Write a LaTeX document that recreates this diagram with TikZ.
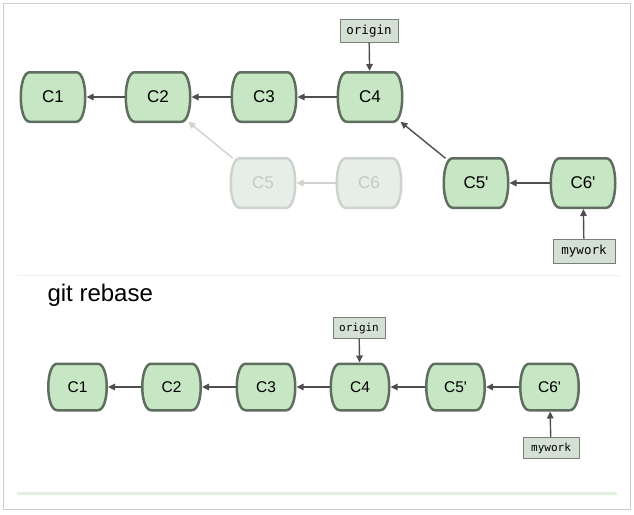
\documentclass[tikz,border=0pt]{standalone}
\usepackage{fontspec}
\setmainfont{Liberation Sans}
\setmonofont{DejaVu Sans Mono}
\usetikzlibrary{arrows.meta}

\definecolor{commitfill}{RGB}{198,230,196}
\definecolor{commitline}{RGB}{96,110,96}
\definecolor{ghostfill}{RGB}{231,238,231}
\definecolor{ghostline}{RGB}{206,211,206}
\definecolor{ghosttext}{RGB}{196,201,196}
\definecolor{reffill}{RGB}{212,224,212}
\definecolor{refline}{RGB}{118,128,118}
\definecolor{linkgray}{RGB}{78,78,78}
\definecolor{framegray}{RGB}{205,205,205}
\definecolor{barfill}{RGB}{226,240,224}

\makeatletter
\pgfdeclareshape{commit box}{
  \inheritsavedanchors[from=rectangle]
  \inheritanchorborder[from=rectangle]
  \inheritanchor[from=rectangle]{center}
  \inheritanchor[from=rectangle]{north}
  \inheritanchor[from=rectangle]{south}
  \inheritanchor[from=rectangle]{east}
  \inheritanchor[from=rectangle]{west}
  \inheritanchor[from=rectangle]{north east}
  \inheritanchor[from=rectangle]{north west}
  \inheritanchor[from=rectangle]{south east}
  \inheritanchor[from=rectangle]{south west}
  \backgroundpath{%
    \southwest \edef\cmtl{\the\pgf@x}\edef\cmtb{\the\pgf@y}%
    \northeast \edef\cmtr{\the\pgf@x}\edef\cmtt{\the\pgf@y}%
    \pgfmathsetmacro\cmtl{\cmtl+\pgfkeysvalueof{/pgf/outer xsep}}%
    \pgfmathsetmacro\cmtr{\cmtr-\pgfkeysvalueof{/pgf/outer xsep}}%
    \pgfmathsetmacro\cmtb{\cmtb+\pgfkeysvalueof{/pgf/outer ysep}}%
    \pgfmathsetmacro\cmtt{\cmtt-\pgfkeysvalueof{/pgf/outer ysep}}%
    \def\cmbow{12}% side bows out by 3/4 of this
    \pgfpathmoveto{\pgfpoint{\cmtl pt}{\cmtt pt}}%
    \pgfpathlineto{\pgfpoint{\cmtr pt}{\cmtt pt}}%
    \pgfpathcurveto{\pgfpoint{\cmtr pt+\cmbow pt}{\cmtt pt}}%
      {\pgfpoint{\cmtr pt+\cmbow pt}{\cmtb pt}}%
      {\pgfpoint{\cmtr pt}{\cmtb pt}}%
    \pgfpathlineto{\pgfpoint{\cmtl pt}{\cmtb pt}}%
    \pgfpathcurveto{\pgfpoint{\cmtl pt-\cmbow pt}{\cmtb pt}}%
      {\pgfpoint{\cmtl pt-\cmbow pt}{\cmtt pt}}%
      {\pgfpoint{\cmtl pt}{\cmtt pt}}%
    \pgfpathclose
  }
}
\makeatother

\begin{document}
\begin{tikzpicture}[x=1pt,y=-1pt,
  commit/.style={shape=commit box, draw=commitline, fill=commitfill, line width=2.5pt,
    inner sep=0pt, outer xsep=10.25pt, outer ysep=1.25pt,
    minimum width=46.5pt, minimum height=49.5pt, font=\fontsize{17}{17}\selectfont},
  small/.style={minimum width=40.5pt, minimum height=46.5pt, font=\fontsize{15.5}{15.5}\selectfont},
  ghost/.style={draw=ghostline, fill=ghostfill, text=ghosttext},
  branch/.style={draw=refline, fill=reffill, line width=0.8pt, inner sep=0pt,
    minimum width=58pt, minimum height=23pt, font=\ttfamily\fontsize{12.5}{12.5}\selectfont},
  link/.style={draw=linkgray, line width=1.4pt, -{Triangle[length=7pt,width=6.5pt]}},
  ghostlink/.style={link, draw=ghostline}]
\useasboundingbox (0,0) rectangle (634,514);
\draw[framegray, line width=1pt] (3,3) rectangle (630,509);
\draw[gray!12, line width=1pt] (17,275) -- (620,275);
\draw[barfill, line width=3pt] (17,493) -- (617,493);

\node[commit] (c1) at (53,97) {C1};
\node[commit] (c2) at (158,97) {C2};
\node[commit] (c3) at (264,97) {C3};
\node[commit] (c4) at (370,97) {C4};
\node[commit,ghost] (c5) at (263,183) {C5};
\node[commit,ghost] (c6) at (369,183) {C6};
\node[commit] (c5p) at (476,183) {C5\textquotesingle};
\node[commit] (c6p) at (583,183) {C6\textquotesingle};
\node[branch] (origin) at (369,31) {origin};
\node[branch, minimum width=62pt, minimum height=24pt] (mywork) at (584,251) {mywork};

\draw[link] (c2) -- (c1);
\draw[link] (c3) -- (c2);
\draw[link] (c4) -- (c3);
\draw[ghostlink, shorten <=-2pt, shorten >=-2pt] (c5) -- (c2);
\draw[ghostlink] (c6) -- (c5);
\draw[link, shorten <=-2pt, shorten >=-2pt] (c5p) -- (c4);
\draw[link] (c6p) -- (c5p);
\draw[link] (origin) -- (c4);
\draw[link] (mywork) -- (c6p);

\node[anchor=base west, font=\fontsize{24}{24}\selectfont] (title) at (44,301) {git rebase};

\node[commit,small] (r1) at (77.5,387) {C1};
\node[commit,small] (r2) at (171.5,387) {C2};
\node[commit,small] (r3) at (266,387) {C3};
\node[commit,small] (r4) at (360,387) {C4};
\node[commit,small] (r5) at (455.5,387) {C5\textquotesingle};
\node[commit,small] (r6) at (549.5,387) {C6\textquotesingle};
\node[branch, minimum width=52pt, minimum height=21pt, font=\ttfamily\fontsize{11}{11}\selectfont] (origin2) at (359,328) {origin};
\node[branch, minimum width=56pt, minimum height=21pt, font=\ttfamily\fontsize{11}{11}\selectfont] (mywork2) at (551,448) {mywork};

\draw[link] (r2) -- (r1);
\draw[link] (r3) -- (r2);
\draw[link] (r4) -- (r3);
\draw[link] (r5) -- (r4);
\draw[link] (r6) -- (r5);
\draw[link] (origin2) -- (r4);
\draw[link] (mywork2) -- (r6);

\end{tikzpicture}
\end{document}
